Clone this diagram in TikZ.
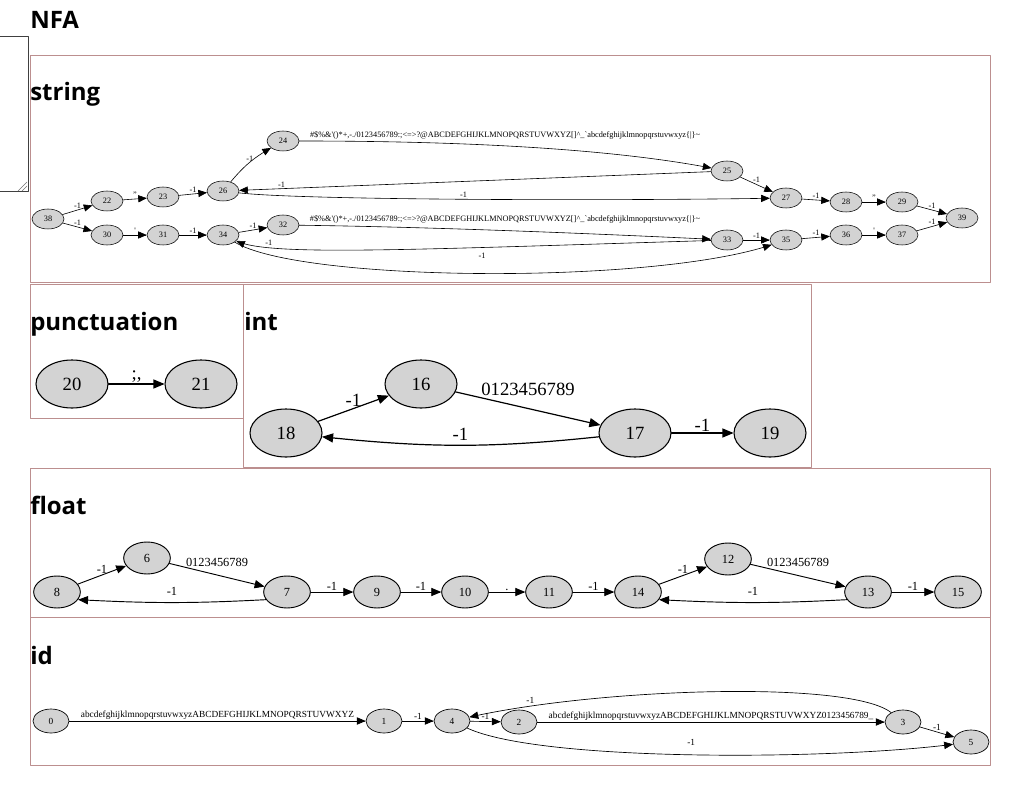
\documentclass[tikz,border=0pt]{standalone}
\usepackage{fontspec}
\setmainfont{Liberation Serif}
\newfontfamily\headfont{Open Sans}
\usepackage{tikz}
\usetikzlibrary{arrows,shapes.geometric}
\definecolor{nodegray}{RGB}{211,211,211}
\definecolor{framecol}{RGB}{188,143,143}
\newcommand{\printables}{\#\$\%\&\textquotesingle()*+,-./0123456789:;<=>?@ABCDEFGHIJKLMNOPQRSTUVWXYZ[]\^{}\_\textasciigrave abcdefghijklmnopqrstuvwxyz\{|\}\textasciitilde}
\newcommand{\fsz}[1]{\fontsize{#1}{#1}\selectfont}

\begin{document}
\begin{tikzpicture}[line cap=round,line join=round,>=triangle 45,x=0.75pt,y=-0.75pt,
	head/.style={anchor=base west,inner sep=0,font=\headfont\bfseries\fsz{18}},
	frame/.style={draw=framecol,line width=0.75pt},
	st/.style={ellipse,draw,fill=nodegray,inner sep=0},
	sst/.style={st,minimum width=24pt,minimum height=15pt,line width=0.4pt,font=\fsz{6.2}},
	bst/.style={st,minimum width=54pt,minimum height=36pt,line width=0.8pt,font=\fsz{14}},
	fst/.style={st,minimum width=35pt,minimum height=24pt,line width=0.7pt,font=\fsz{9.3}},
	dst/.style={st,minimum width=27pt,minimum height=18pt,line width=0.5pt,font=\fsz{7}},
	sedge/.style={->,line width=0.45pt},
	bedge/.style={->,line width=0.9pt},
	fedge/.style={->,line width=0.7pt},
	dedge/.style={->,line width=0.5pt},
	slbl/.style={inner sep=1pt,font=\fsz{6.2}},
	blbl/.style={inner sep=1pt,font=\fsz{14}},
	flbl/.style={inner sep=1pt,font=\fsz{9.3}},
	dlbl/.style={inner sep=1pt,font=\fsz{7}}]
	\useasboundingbox (0,0) rectangle (1034,791);
	% page
	\node[head] (hnfa) at (30,29) {NFA};
	\draw[black!75,line width=0.75pt] (-2,37) rectangle (28,192);
	\draw[black!55,line width=0.5pt] (18,191)--(27,182) (22,191)--(27,186);
	\draw[frame] (30,56) rectangle (990,283);
	\draw[frame] (30,285) rectangle (243,418);
	\draw[frame] (243,285) rectangle (811,467);
	\draw[frame] (30,468) rectangle (990,617);
	\draw[frame] (30,617) rectangle (990,765);
	\node[head] (hstring) at (30,101) {string};
	\node[head] (hpunct) at (30,330) {punctuation};
	\node[head] (hint) at (244,330) {int};
	\node[head] (hfloat) at (30,514) {float};
	\node[head] (hid) at (30,664) {id};
	% string
	\node[sst] (s38) at (48,219) {38};
	\node[sst] (s22) at (107,201) {22};
	\node[sst] (s23) at (163,197) {23};
	\node[sst] (s26) at (223,191) {26};
	\node[sst] (s24) at (283,141) {24};
	\node[sst] (s25) at (727,171) {25};
	\node[sst] (s27) at (786,198) {27};
	\node[sst] (s28) at (846,202) {28};
	\node[sst] (s29) at (902,202) {29};
	\node[sst] (s39) at (962,218) {39};
	\node[sst] (s30) at (107,235) {30};
	\node[sst] (s31) at (163,235) {31};
	\node[sst] (s34) at (223,235) {34};
	\node[sst] (s32) at (283,225) {32};
	\node[sst] (s33) at (727,240) {33};
	\node[sst] (s35) at (786,240) {35};
	\node[sst] (s36) at (846,235) {36};
	\node[sst] (s37) at (902,235) {37};
	\draw[sedge] (s38) -- node[slbl,above] {-1} (s22);
	\draw[sedge] (s38) -- node[slbl,above] {-1} (s30);
	\draw[sedge] (s22) -- node[slbl,above] {"} (s23);
	\draw[sedge] (s23) -- node[slbl,above] {-1} (s26);
	\draw[sedge] (s26) to[bend left=10] node[slbl,left,pos=0.65] {-1} (s24);
	\draw[sedge] (s24) .. controls (420,141) and (590,145) .. node[slbl,above=4pt] {\printables} (s25);
	\draw[sedge] (s25) -- node[slbl,above,pos=0.91] {-1} (s26);
	\draw[sedge] (s26) .. controls (300,200) and (600,201) .. node[slbl,above] {-1} (s27);
	\draw[sedge] (s25) -- node[slbl,above] {-1} (s27);
	\draw[sedge] (s27) -- node[slbl,above] {-1} (s28);
	\draw[sedge] (s28) -- node[slbl,above] {"} (s29);
	\draw[sedge] (s29) -- node[slbl,above] {-1} (s39);
	\draw[sedge] (s30) -- node[slbl,above] {\textquotesingle} (s31);
	\draw[sedge] (s31) -- node[slbl,above] {-1} (s34);
	\draw[sedge] (s34) -- node[slbl,above] {-1} (s32);
	\draw[sedge] (s32) .. controls (430,227) and (580,233) .. node[slbl,above=4pt] {\printables} (s33);
	\draw[sedge] (s33) .. controls (400,250) and (270,256) .. node[slbl,above,pos=0.8] {-1} (s34);
	\draw[sedge] (s34) .. controls (300,282) and (650,285) .. node[slbl,above=10pt] {-1} (s35);
	\draw[sedge] (s33) -- node[slbl,above] {-1} (s35);
	\draw[sedge] (s35) -- node[slbl,above] {-1} (s36);
	\draw[sedge] (s36) -- node[slbl,above] {\textquotesingle} (s37);
	\draw[sedge] (s37) -- node[slbl,above] {-1} (s39);
	% punctuation
	\node[bst] (p20) at (72,384) {20};
	\node[bst] (p21) at (201,384) {21};
	\draw[bedge] (p20) -- node[blbl,above] {;,} (p21);
	% int
	\node[bst] (n18) at (286,433) {18};
	\node[bst] (n16) at (421,384) {16};
	\node[bst] (n17) at (635,433) {17};
	\node[bst] (n19) at (770,433) {19};
	\draw[bedge] (n18) -- node[blbl,above] {-1} (n16);
	\draw[bedge] (n16) -- node[blbl,above=8pt] {0123456789} (n17);
	\draw[bedge] (n17) to[bend left=6] node[blbl,above=2pt] {-1} (n18);
	\draw[bedge] (n17) -- node[blbl,above] {-1} (n19);
	% float
	\node[fst] (f8) at (57,592) {8};
	\node[fst] (f6) at (147,558) {6};
	\node[fst] (f7) at (287,592) {7};
	\node[fst] (f9) at (377,592) {9};
	\node[fst] (f10) at (465,592) {10};
	\node[fst] (f11) at (549,592) {11};
	\node[fst] (f14) at (638,592) {14};
	\node[fst] (f12) at (728,559) {12};
	\node[fst] (f13) at (868,592) {13};
	\node[fst] (f15) at (958,592) {15};
	\draw[fedge] (f8) -- node[flbl,above] {-1} (f6);
	\draw[fedge] (f6) -- node[flbl,above=5pt] {0123456789} (f7);
	\draw[fedge] (f7.200) to[bend left=3] node[flbl,above=4pt] {-1} (f8.-20);
	\draw[fedge] (f7) -- node[flbl,above] {-1} (f9);
	\draw[fedge] (f9) -- node[flbl,above] {-1} (f10);
	\draw[fedge] (f10) -- node[flbl,above] {.} (f11);
	\draw[fedge] (f11) -- node[flbl,above] {-1} (f14);
	\draw[fedge] (f14) -- node[flbl,above] {-1} (f12);
	\draw[fedge] (f12) -- node[flbl,above=5pt] {0123456789} (f13);
	\draw[fedge] (f13.200) to[bend left=3] node[flbl,above=4pt] {-1} (f14.-20);
	\draw[fedge] (f13) -- node[flbl,above] {-1} (f15);
	% id
	\node[dst] (d0) at (51,721) {0};
	\node[dst] (d1) at (384,721) {1};
	\node[dst] (d4) at (452,721) {4};
	\node[dst] (d2) at (519,722) {2};
	\node[dst] (d3) at (903,722) {3};
	\node[dst] (d5) at (971,742) {5};
	\draw[dedge] (d0) -- node[dlbl,above] {abcdefghijklmnopqrstuvwxyzABCDEFGHIJKLMNOPQRSTUVWXYZ} (d1);
	\draw[dedge] (d1) -- node[dlbl,above] {-1} (d4);
	\draw[dedge] (d4) -- node[dlbl,above] {-1} (d2);
	\draw[dedge] (d2) -- node[dlbl,above] {abcdefghijklmnopqrstuvwxyzABCDEFGHIJKLMNOPQRSTUVWXYZ0123456789\_} (d3);
	\draw[dedge] (d3) .. controls (850,680) and (600,688) .. node[dlbl,above=1pt,pos=0.86] {-1} (d4);
	\draw[dedge] (d3) -- node[dlbl,above] {-1} (d5);
	\draw[dedge] (d4) .. controls (540,762) and (830,760) .. node[dlbl,above=6pt] {-1} (d5);
\end{tikzpicture}
\end{document}
